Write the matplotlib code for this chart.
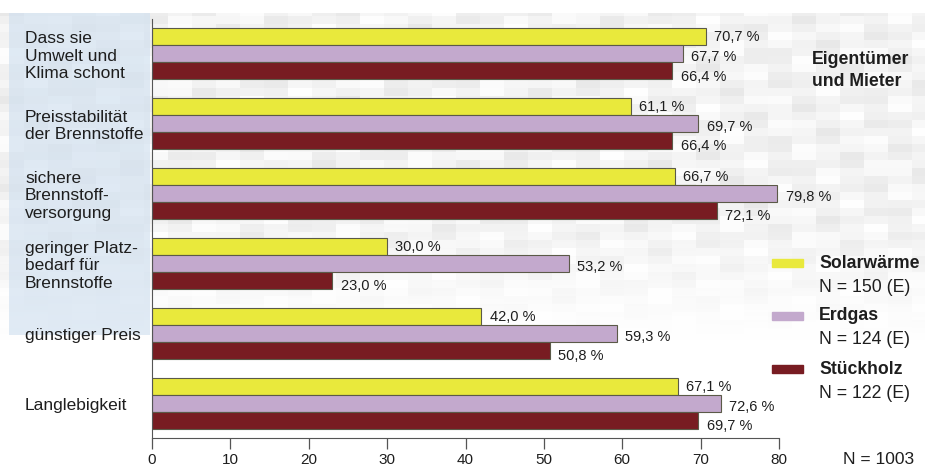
import numpy as np
import matplotlib.pyplot as plt
from matplotlib.patches import Rectangle
from matplotlib.transforms import blended_transform_factory

# Werte (Prozent) je Kriterium und Heizsystem
kriterien = ["Dass sie\nUmwelt und\nKlima schont",
             "Preisstabilität\nder Brennstoffe",
             "sichere\nBrennstoff-\nversorgung",
             "geringer Platz-\nbedarf für\nBrennstoffe",
             "günstiger Preis",
             "Langlebigkeit"]
solar = [70.7, 61.1, 66.7, 30.0, 42.0, 67.1]
erdgas = [67.7, 69.7, 79.8, 53.2, 59.3, 72.6]
holz = [66.4, 66.4, 72.1, 23.0, 50.8, 69.7]

serien = ["Solarwärme", "Erdgas", "Stückholz"]
stichprobe = ["N = 150 (E)", "N = 124 (E)", "N = 122 (E)"]
farben = ["#e9e93c", "#c3a9cd", "#781c22"]
xticks = [0, 10, 20, 30, 40, 50, 60, 70, 80]

plt.rcParams['font.family'] = ['Liberation Sans', 'DejaVu Sans']
textfarbe = "#1e1e1e"

fig = plt.figure(figsize=(9.25, 4.68), dpi=100)

# Hintergrund: helles Mosaik, links bläulich, unten weiß auslaufend
bg = fig.add_axes([0, 0, 1, 1], zorder=0)
bg.axis('off')
H, W = 468, 925
rows, cols = H // 8 + 1, W // 24 + 1
r = np.arange(rows)[:, None]
c = np.arange(cols)[None, :]
muster = 0.5 + 0.25 * np.sin(r * 1.7 + c * 0.9) + 0.25 * np.sin(r * 0.6 - c * 2.3 + 1.0)
tile = np.kron(muster, np.ones((8, 24)))[:H, :W]
yy = np.arange(H)[:, None] * np.ones((1, W))
xx = np.ones((H, 1)) * np.arange(W)[None, :]
staerke = np.clip((340 - yy) / 120, 0, 1) * (yy > 12)
grau = 1 - 0.09 * tile * staerke
img = np.dstack([grau, grau, grau])
panel = (xx > 8) & (xx < 150) & (yy > 12) & (yy < 335)
img[panel] = np.dstack([grau - 0.12 + 0.06 * tile * staerke,
                        grau - 0.08 + 0.06 * tile * staerke,
                        grau - 0.04 + 0.06 * tile * staerke])[panel]
bg.imshow(np.clip(img, 0, 1), extent=(0, 1, 0, 1), aspect='auto')
bg.set_xlim(0, 1)
bg.set_ylim(0, 1)

ax = fig.add_axes([152 / 925, 1 - 438 / 468, 627 / 925, 419 / 468], zorder=1)
ax.patch.set_alpha(0)

n = len(kriterien)
pos = np.arange(n)
h = 17 / 70
dy = [0, 2, 4]
for k, (werte, farbe) in enumerate(zip([solar, erdgas, holz], farben)):
    y = pos + (k - 1) * h
    ax.barh(y, werte, height=h, color=farbe, edgecolor="#5b5a48", linewidth=0.8)
    for yi, v in zip(y, werte):
        ax.annotate(f"{v:.1f} %".replace(".", ","), (v, yi), xytext=(6, -dy[k]),
                    textcoords='offset points', ha='left', va='center',
                    fontsize=10.5, color=textfarbe)

ax.set_xlim(0, 80)
ax.set_ylim(5.49, -0.5)
ax.set_yticks([])
ax.set_xticks(xticks)
ax.set_xticklabels([str(t) for t in xticks],
                   family=['Liberation Sans Narrow', 'Liberation Sans'], fontsize=11,
                   color=textfarbe)
ax.tick_params(axis='x', length=8, width=0.9, color="#555555", pad=3)
for s in ['top', 'right']:
    ax.spines[s].set_visible(False)
ax.spines['bottom'].set_color("#555555")
ax.spines['left'].set_color("#555555")

# Kriterien links: x in Figurkoordinaten, y wie die Balkengruppen
trans = blended_transform_factory(fig.transFigure, ax.transData)
for p, name in zip(pos, kriterien):
    ax.text(25 / 925, p + 0.03, name, transform=trans, ha='left', va='center',
            fontsize=12.5, color=textfarbe, linespacing=1.18, clip_on=False)

# Legende rechts
fig.text(812 / 925, 1 - 60 / 468, "Eigentümer", fontsize=12.7, fontweight='bold',
         color=textfarbe, va='center')
fig.text(812 / 925, 1 - 81 / 468, "und Mieter", fontsize=12.7, fontweight='bold',
         color=textfarbe, va='center')
for k, (name, nstr, farbe) in enumerate(zip(serien, stichprobe, farben)):
    yc = 263 + 53 * k
    fig.add_artist(Rectangle((772 / 925, 1 - (yc + 4) / 468), 31 / 925, 8 / 468,
                             transform=fig.transFigure, color=farbe, zorder=2))
    fig.text(819 / 925, 1 - yc / 468, name, fontsize=12.7, fontweight='bold',
             color=textfarbe, va='center')
    fig.text(819 / 925, 1 - (yc + 24) / 468, nstr, fontsize=12.7,
             color=textfarbe, va='center')
fig.text(843 / 925, 1 - 460 / 468, "N = 1003", fontsize=12.5, color=textfarbe,
         va='center')

fig.savefig("out.png", dpi=100)
